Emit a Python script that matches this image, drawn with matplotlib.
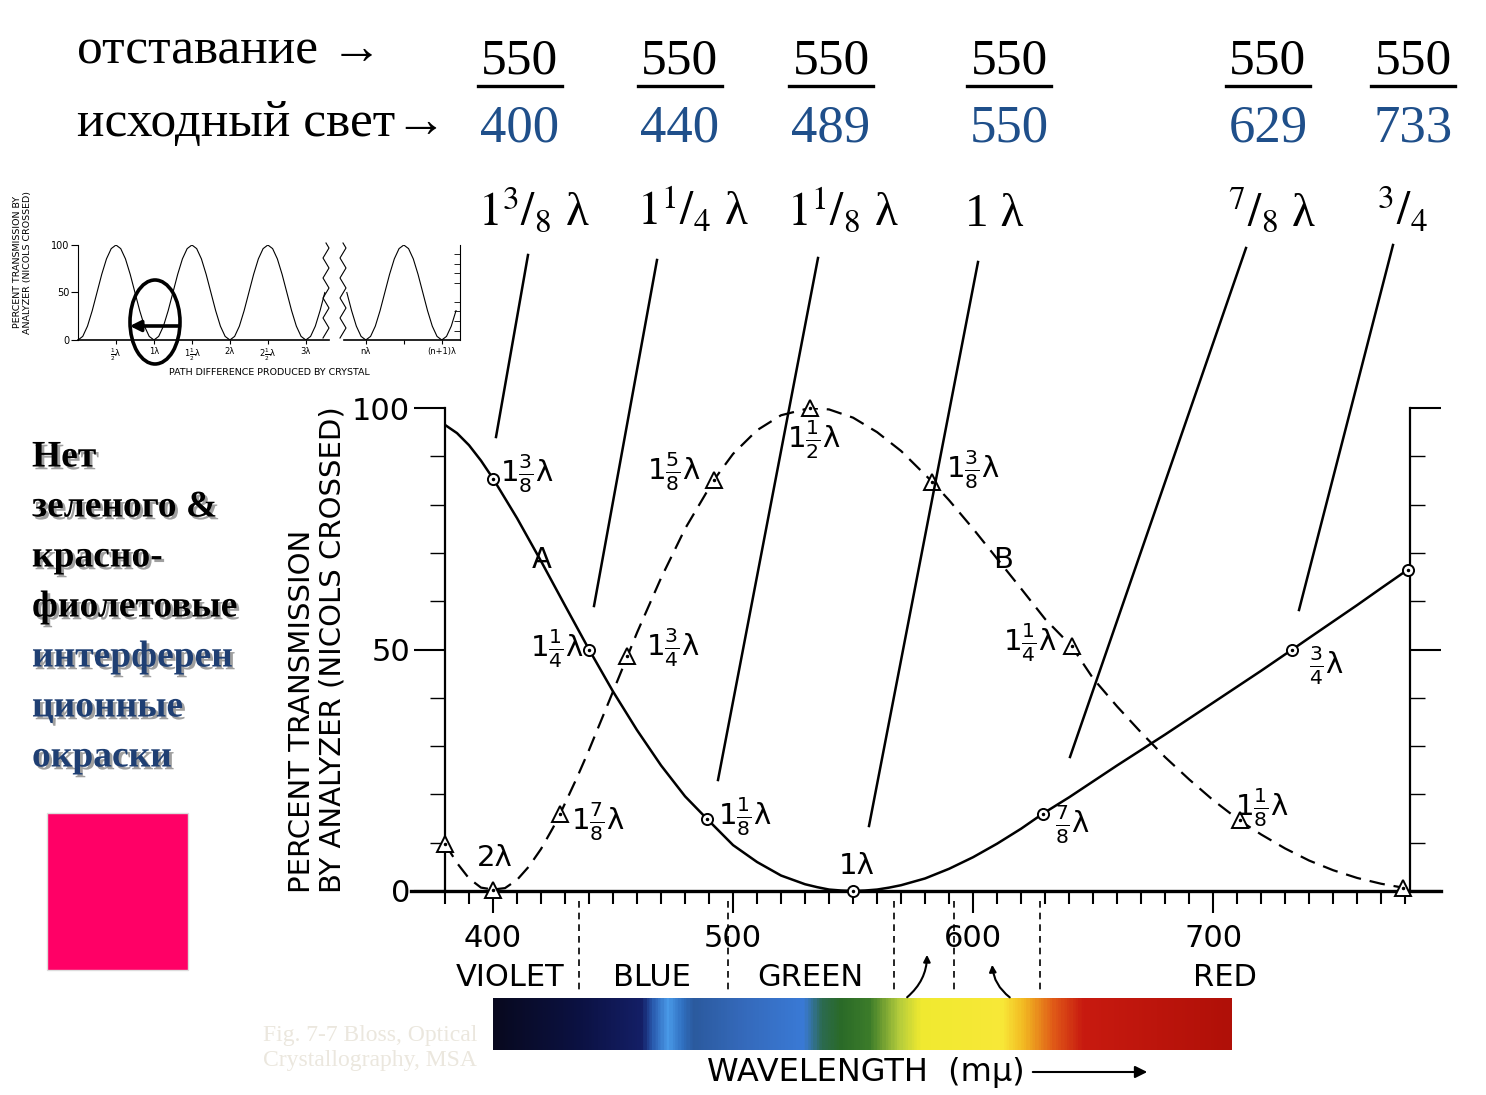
import numpy as np
import matplotlib
matplotlib.use("Agg")
import matplotlib.pyplot as plt
import matplotlib.patheffects as pe
from matplotlib.colors import LinearSegmentedColormap
from matplotlib.patches import Ellipse, Rectangle

# ---- data ----
# curve A (solid, 550 nm retardation), wavelength in nm -> % transmission
A_WL = [380, 385, 390, 395, 400, 410, 420, 430, 440, 450, 460, 470, 480, 489, 500, 510, 520,
        530, 535, 540, 545, 550, 555, 560, 565, 570, 580, 590, 600, 610, 620, 629,
        640, 650, 660, 670, 680, 690, 700, 710, 720, 730, 733, 740, 750, 760, 770, 781]
A_VAL = [96.5, 94.8, 92.3, 89.1, 85.4, 77.2, 68.3, 59.1, 50.0, 41.3, 33.3, 26.0, 19.6, 15.0, 9.5, 6.0, 3.2,
         1.4, 0.8, 0.3, 0.1, 0.0, 0.1, 0.3, 0.7, 1.2, 2.6, 4.6, 7.0, 9.8, 12.9, 16.0,
         19.4, 22.7, 26.0, 29.2, 32.4, 35.7, 39.0, 42.3, 45.6, 49.0, 50.0, 52.4, 55.8, 59.2, 62.7, 66.5]
A_MARK = [400, 440, 489, 550, 629, 733, 781]

# curve B (dashed, 800 nm retardation)
B_WL = [380, 385, 390, 395, 400, 405, 410, 415, 420, 425, 428, 435, 440, 450, 456, 460,
        470, 480, 492, 500, 510, 520, 532, 540, 550, 560, 570, 583, 590, 600, 610, 620,
        630, 641, 650, 660, 670, 680, 690, 700, 711, 720, 730, 740, 750, 760, 770, 779]
B_VAL = [9.8, 5.8, 2.6, 0.7, 0.3, 0.6, 2.3, 5.1, 8.7, 13.1, 16.0, 23.5, 29.2, 41.3, 48.6, 53.5,
         64.8, 75.0, 85.1, 90.5, 95.4, 98.5, 100.0, 99.7, 98.0, 95.0, 91.1, 84.7, 80.9, 75.0, 68.8, 62.6,
         56.3, 50.7, 44.0, 38.2, 32.8, 27.7, 23.1, 18.8, 14.6, 11.7, 8.8, 6.3, 4.3, 2.7, 1.5, 0.7]
B_MARK = [380, 400, 428, 456, 492, 532, 583, 641, 711, 779]

# inset: one period of the crossed-nicols curve in 1/16 lambda steps
INSET_PERIOD = [0, 3.8, 14.6, 30.9, 50, 69.1, 85.4, 96.2, 100, 96.2, 85.4, 69.1, 50, 30.9, 14.6, 3.8]

RETARD = ['550', '550', '550', '550', '550', '550']
SOURCE = ['400', '440', '489', '550', '629', '733']
ORDERS = [r'$1^{3}/_{8}$ λ', r'$1^{1}/_{4}$ λ', r'$1^{1}/_{8}$ λ',
          '1 λ', r'${}^{7}/_{8}$ λ', r'${}^{3}/_{4}$']

COLOR_BANDS = ['VIOLET', 'BLUE', 'GREEN', 'RED']
BAND_EDGES = [436, 498, 567, 592, 628]

W, H = 1486, 1095
COND = ['DejaVu Sans']
SERIF = ['Liberation Serif', 'DejaVu Serif']
BLUE = '#1f4f8a'
plt.rcParams['mathtext.fontset'] = 'stix'

fig = plt.figure(figsize=(W / 100, H / 100), dpi=100)


def box(x0, y0, x1, y1):
    return [x0 / W, 1 - y1 / H, (x1 - x0) / W, (y1 - y0) / H]


# ---- main chart ----
ax = fig.add_axes(box(445, 408, 1410, 891))
ax.set_xlim(380, 782)
ax.set_ylim(0, 100)
ax.patch.set_alpha(0)
ax.plot(A_WL, A_VAL, color='black', lw=1.8, zorder=3)
ax.plot(B_WL, B_VAL, color='black', lw=1.6, ls=(0, (7, 4)), zorder=3)
a_lookup = dict(zip(A_WL, A_VAL))
b_lookup = dict(zip(B_WL, B_VAL))
am = [a_lookup[w] for w in A_MARK]
bm = [b_lookup[w] for w in B_MARK]
ax.plot(A_MARK, am, 'o', ms=8, mfc='white', mec='black', mew=1.4, zorder=4, clip_on=False)
ax.plot(A_MARK, am, '.', ms=3, color='black', zorder=5, clip_on=False)
ax.plot(B_MARK, bm, '^', ms=12, mfc='white', mec='black', mew=1.4, zorder=4, clip_on=False)
ax.plot(B_MARK, bm, '.', ms=3, color='black', zorder=5, clip_on=False)
ax.plot([366, 795], [0, 0], color='black', lw=2.4, clip_on=False, zorder=2)

for s in ['top', 'bottom']:
    ax.spines[s].set_visible(False)
for s in ['left', 'right']:
    ax.spines[s].set_linewidth(1.6)
ax.set_xticks([400, 500, 600, 700])
ax.set_xticks(range(380, 790, 10), minor=True)
ax.set_yticks([0, 50, 100])
ax.set_yticks(range(0, 101, 10), minor=True)
ax.tick_params(axis='x', which='major', length=16, width=1.5, direction='out', pad=8,
               labelsize=22)
ax.tick_params(axis='x', which='minor', length=9, width=1.5, direction='out')
ax.tick_params(axis='y', which='major', length=22, width=1.5, direction='out', right=True,
               labelsize=22, pad=3)
ax.tick_params(axis='y', which='minor', length=11, width=1.0, direction='out', right=True)
for lab in ax.get_xticklabels() + ax.get_yticklabels():
    lab.set_family(COND)
ax.set_ylabel('PERCENT TRANSMISSION\nBY ANALYZER (NICOLS CROSSED)', family=COND,
              fontsize=21, linespacing=1.1, multialignment='left')
ax.yaxis.set_label_coords(-0.102, 0.5)

# colour band boundaries and names below the axis
for x in BAND_EDGES:
    ax.plot([x, x], [-2, -21], color='black', lw=1.2, ls=(0, (4, 3)), clip_on=False)
for name, x in zip(COLOR_BANDS, [407, 466, 532, 705]):
    ax.text(x, -18, name, ha='center', va='center', family=COND, fontsize=22)

# ---- overlay in pixel coordinates ----
ov = fig.add_axes([0, 0, 1, 1], zorder=5)
ov.set_xlim(0, W)
ov.set_ylim(H, 0)
ov.axis('off')
ov.patch.set_alpha(0)

ov.text(77, 64, 'отставание →', family=SERIF, fontsize=37, va='baseline')
ov.text(77, 136, 'исходный свет→', family=SERIF, fontsize=37, va='baseline')
col_x = [520, 680, 831, 1009, 1268, 1413]
for x, num, den in zip(col_x, RETARD, SOURCE):
    ov.text(x, 73, num, family=SERIF, fontsize=37, ha='center', va='baseline')
    ov.plot([x - 42, x + 42], [86, 86], color='black', lw=2.4)
    ov.text(x, 141, den, family=SERIF, fontsize=38, ha='center', va='baseline', color=BLUE)
for x, lab in zip([478, 637, 787, 965, 1228, 1377], ORDERS):
    ov.text(x, 226, lab, fontsize=34, va='baseline', family=SERIF)

# leader lines from the ratios to the curve points
LEAD = [((528, 255), (496, 437)), ((657, 260), (594, 606)), ((818, 258), (718, 780)),
        ((978, 262), (869, 826)), ((1246, 248), (1070, 757)), ((1393, 245), (1299, 610))]
for (x0, y0), (x1, y1) in LEAD:
    ov.plot([x0, x1], [y0, y1], color='black', lw=1.8)

# point labels on the chart
PT_LABELS = [(527, 474, r'$1\frac{3}{8}$λ'), (542, 560, 'A'), (557, 649, r'$1\frac{1}{4}$λ'),
             (598, 822, r'$1\frac{7}{8}$λ'), (495, 858, '2λ'),
             (745, 817, r'$1\frac{1}{8}$λ'), (674, 472, r'$1\frac{5}{8}$λ'),
             (673, 648, r'$1\frac{3}{4}$λ'), (814, 440, r'$1\frac{1}{2}$λ'),
             (857, 866, '1λ'), (973, 470, r'$1\frac{3}{8}$λ'), (1003, 560, 'B'),
             (1030, 643, r'$1\frac{1}{4}$λ'), (1072, 825, r'$\frac{7}{8}$λ'),
             (1326, 666, r'$\frac{3}{4}$λ'), (1262, 808, r'$1\frac{1}{8}$λ')]
for x, y, t in PT_LABELS:
    ov.text(x, y, t, ha='center', va='center', fontsize=21, family=COND,
            math_fontfamily='dejavusans')

# wavelength arrows and caption
ov.annotate('', xy=(927, 952), xytext=(905, 999),
            arrowprops=dict(arrowstyle='-|>', color='black', lw=1.5, connectionstyle='arc3,rad=0.25'))
ov.annotate('', xy=(992, 962), xytext=(1012, 999),
            arrowprops=dict(arrowstyle='-|>', color='black', lw=1.5, connectionstyle='arc3,rad=-0.25'))
ov.text(866, 1073, 'WAVELENGTH  (mμ)', ha='center', va='center', family=COND, fontsize=23)
ov.annotate('', xy=(1150, 1072), xytext=(1030, 1072),
            arrowprops=dict(arrowstyle='-|>', color='black', lw=1.5, mutation_scale=18))
ov.text(263, 1048, 'Fig. 7-7 Bloss, Optical\nCrystallography, MSA', family=SERIF, fontsize=17,
        color='#ebe7de', va='center', linespacing=1.25)

# left-hand explanation
LEFT_LINES = ['Нет', 'зеленого &', 'красно-', 'фиолетовые', 'интерферен', 'ционные', 'окраски']
for i, line in enumerate(LEFT_LINES):
    c = 'black' if i < 4 else '#1f3f73'
    ov.text(32, 457 + 50 * i, line, family=SERIF, fontsize=27, fontweight='bold', color=c,
            va='center',
            path_effects=[pe.withSimplePatchShadow(offset=(2, -2), shadow_rgbFace='#777777', alpha=0.7)])
ov.add_patch(Rectangle((47, 813), 141, 157, facecolor='#ff0066', edgecolor='#dddddd', lw=1))

# ---- spectrum strip ----
stops = [(0.0, '#08091f'), (0.12, '#0c1244'), (0.2, '#141f66'), (0.215, '#2a5cb0'),
         (0.235, '#4a9ae8'), (0.255, '#3070c0'), (0.27, '#2b5a9e'), (0.33, '#3468b8'),
         (0.42, '#3a7ad6'), (0.445, '#2c6a50'), (0.47, '#2a6a28'), (0.51, '#3c7c2a'),
         (0.55, '#b4cc3c'), (0.58, '#f0ea30'), (0.69, '#f8e838'), (0.72, '#f2b822'),
         (0.76, '#e05a18'), (0.8, '#c81a10'), (1.0, '#b01008')]
spec_cmap = LinearSegmentedColormap.from_list('spec', stops)
sp = fig.add_axes(box(493, 998, 1232, 1050))
sp.imshow(np.linspace(0, 1, 600)[None, :], aspect='auto', cmap=spec_cmap)
sp.axis('off')

# ---- inset: transmission versus path difference ----
ins = fig.add_axes(box(78, 245, 460, 340))
ins.set_xlim(0, 5.03)
ins.set_ylim(0, 100)
ins.patch.set_alpha(0)
left_y = INSET_PERIOD * 3 + [0, 3.8, 14.6, 30.9, 50]
left_x = np.arange(len(left_y)) / 16
ins.plot(left_x, left_y, color='black', lw=0.8)
n0 = 3.79
right_y = [50, 30.9, 14.6, 3.8] + INSET_PERIOD + [0, 3.8, 14.6, 30.9]
right_x = n0 - 0.25 + np.arange(len(right_y)) / 16
ins.plot(right_x, right_y, color='black', lw=0.8)
ins.plot([0, 3.3], [0, 0], color='black', lw=1.2, clip_on=False)
ins.plot([3.5, 5.03], [0, 0], color='black', lw=1.2, clip_on=False)
for s in ['top', 'bottom']:
    ins.spines[s].set_visible(False)
for s in ['left', 'right']:
    ins.spines[s].set_linewidth(0.8)
ins.set_yticks([0, 50, 100])
ins.set_yticklabels(['0', '50', '100'])
ins.set_yticks(range(0, 101, 10), minor=True)
ins.tick_params(axis='y', which='major', length=5, width=0.8, labelsize=7, pad=1)
ins.tick_params(axis='y', which='minor', left=False, right=True, length=4, width=0.6,
                direction='in')
ins.set_xticks([0.5, 1, 1.5, 2, 2.5, 3, n0, n0 + 0.5, n0 + 1])
ins.set_xticklabels([r'$\frac{1}{2}$λ', '1λ', r'$1\frac{1}{2}$λ', '2λ',
                     r'$2\frac{1}{2}$λ', '3λ', 'nλ', '', '(n+1)λ'],
                    math_fontfamily='dejavusans')
ins.tick_params(axis='x', length=3, width=0.8, labelsize=6, pad=2)
ins.set_xlabel('PATH DIFFERENCE PRODUCED BY CRYSTAL', fontsize=6.8, labelpad=3)
ins.set_ylabel('PERCENT TRANSMISSION BY\nANALYZER (NICOLS CROSSED)', fontsize=6.8,
               linespacing=1.1, labelpad=2)
ins.yaxis.set_label_coords(-0.12, 0.82)

# break marks
zig_y = np.arange(243, 341, 5)
zig_dx = [0, 3, 0, -3] * 6
for xb in [326, 343]:
    ov.plot([xb + d for d in zig_dx[:len(zig_y)]], zig_y, color='black', lw=0.8)
ov.add_patch(Ellipse((155, 322), 50, 84, fill=False, edgecolor='black', lw=2.6))
ov.annotate('', xy=(127, 326), xytext=(181, 326),
            arrowprops=dict(arrowstyle='-|>', color='black', lw=2.6, mutation_scale=16))

fig.savefig('out.png', dpi=100)
